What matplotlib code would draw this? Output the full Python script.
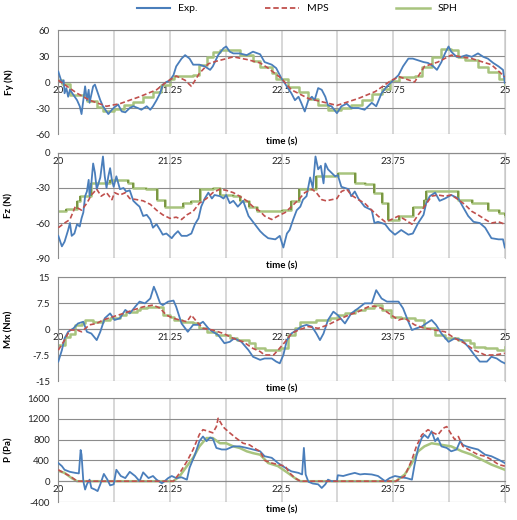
import numpy as np
import matplotlib.pyplot as plt

plt.rcParams['font.family'] = ['Lato', 'DejaVu Sans']

# ---- data (time s, value) ----
fy_exp = [(20.00, 12), (20.04, -1), (20.06, 2), (20.07, -13), (20.09, -7), (20.11, -17), (20.13, -9),
          (20.17, -15), (20.21, -21), (20.24, -28), (20.26, -37), (20.28, -21), (20.30, -5), (20.32, -21),
          (20.34, -9), (20.35, -24), (20.39, -5), (20.41, -3), (20.43, -9), (20.47, -21), (20.50, -28),
          (20.54, -34), (20.56, -37), (20.60, -32), (20.63, -29), (20.67, -26), (20.71, -34), (20.75, -35),
          (20.80, -30), (20.84, -28), (20.89, -30), (20.93, -32), (20.99, -28), (21.03, -32), (21.06, -28),
          (21.10, -21), (21.14, -13), (21.17, -3), (21.21, 0), (21.25, 2), (21.29, 8), (21.32, 18),
          (21.38, 27), (21.42, 31), (21.47, 27), (21.51, 20), (21.58, 20), (21.64, 18), (21.70, 14),
          (21.73, 18), (21.79, 31), (21.85, 39), (21.88, 41), (21.92, 35), (21.96, 33), (22.03, 33),
          (22.11, 31), (22.18, 35), (22.26, 32), (22.31, 23), (22.39, 20), (22.44, 16), (22.50, 4),
          (22.54, -2), (22.57, -7), (22.61, -13), (22.65, -21), (22.69, -17), (22.72, -24), (22.76, -34),
          (22.80, -21), (22.84, -17), (22.87, -21), (22.91, -7), (22.95, -9), (22.99, -17), (23.02, -27),
          (23.06, -28), (23.12, -36), (23.17, -28), (23.23, -25), (23.28, -30), (23.36, -30), (23.43, -32),
          (23.51, -24), (23.56, -28), (23.62, -13), (23.68, -5), (23.73, 0), (23.81, 8), (23.86, 18),
          (23.92, 27), (23.97, 27), (24.03, 25), (24.09, 23), (24.14, 22), (24.20, 18), (24.24, 14),
          (24.29, 23), (24.33, 33), (24.37, 41), (24.40, 35), (24.46, 29), (24.51, 29), (24.57, 31),
          (24.63, 29), (24.70, 33), (24.76, 29), (24.81, 27), (24.87, 22), (24.93, 18), (24.98, 14),
          (25.00, -1)]
fy_mps = [(20.00, 2), (20.21, -13), (20.35, -21), (20.54, -28), (20.69, -25), (20.91, -17), (21.10, -9),
          (21.21, 0), (21.32, 7), (21.42, 2), (21.49, -5), (21.58, 10), (21.68, 21), (21.77, 24),
          (21.96, 29), (22.11, 26), (22.26, 22), (22.35, 16), (22.50, 4), (22.61, -9), (22.80, -19),
          (23.12, -27), (23.36, -19), (23.55, -11), (23.73, 2), (23.82, 6), (23.99, 0), (24.10, 18),
          (24.25, 23), (24.40, 31), (24.63, 27), (24.85, 20), (25.00, 6)]
fy_sph = [(20.00, 2), (20.04, -2), (20.13, -15), (20.32, -22), (20.43, -29), (20.50, -33), (20.62, -31),
          (20.73, -27), (20.84, -23), (20.95, -17), (21.06, -12), (21.15, -4), (21.25, 3), (21.29, 7),
          (21.51, 8), (21.58, 20), (21.66, 29), (21.73, 35), (21.81, 37), (22.03, 31), (22.18, 24),
          (22.26, 17), (22.39, 10), (22.44, 3), (22.57, -6), (22.69, -12), (22.80, -20), (22.91, -27),
          (23.02, -32), (23.17, -30), (23.28, -26), (23.40, -21), (23.51, -14), (23.62, -8), (23.71, 1),
          (23.81, 6), (23.99, 7), (24.07, 17), (24.18, 29), (24.29, 38), (24.40, 37), (24.48, 29),
          (24.55, 25), (24.70, 17), (24.81, 11), (24.93, 4), (25.00, -4)]

fz_exp = [(20.00, -71), (20.04, -80), (20.07, -76), (20.11, -66), (20.13, -60), (20.15, -71), (20.18, -69),
          (20.21, -61), (20.24, -63), (20.26, -56), (20.28, -51), (20.30, -37), (20.32, -33), (20.34, -23),
          (20.35, -37), (20.37, -26), (20.39, -9), (20.41, -17), (20.43, -31), (20.45, -26), (20.47, -21),
          (20.50, -3), (20.52, -20), (20.54, -30), (20.56, -20), (20.58, -13), (20.60, -23), (20.62, -29),
          (20.65, -20), (20.69, -31), (20.73, -30), (20.76, -33), (20.80, -32), (20.84, -41), (20.88, -44),
          (20.91, -46), (20.95, -54), (20.99, -53), (21.03, -57), (21.06, -64), (21.10, -61), (21.14, -66),
          (21.17, -70), (21.21, -69), (21.27, -73), (21.30, -70), (21.34, -67), (21.38, -71), (21.44, -71),
          (21.49, -69), (21.53, -61), (21.57, -56), (21.60, -46), (21.64, -39), (21.68, -34), (21.72, -39),
          (21.75, -36), (21.81, -37), (21.85, -39), (21.88, -36), (21.92, -43), (21.96, -41), (22.01, -46),
          (22.07, -41), (22.13, -54), (22.18, -59), (22.26, -67), (22.30, -70), (22.35, -73), (22.43, -74),
          (22.48, -71), (22.52, -81), (22.56, -69), (22.59, -66), (22.63, -57), (22.67, -49), (22.71, -46),
          (22.74, -40), (22.78, -37), (22.82, -21), (22.85, -30), (22.88, -3), (22.91, -14), (22.94, -11),
          (22.97, -26), (22.99, -9), (23.02, -14), (23.06, -17), (23.10, -20), (23.13, -19), (23.17, -29),
          (23.21, -30), (23.25, -31), (23.28, -37), (23.32, -33), (23.36, -39), (23.43, -46), (23.51, -49),
          (23.54, -60), (23.58, -59), (23.66, -61), (23.71, -66), (23.77, -70), (23.84, -66), (23.92, -70),
          (23.97, -69), (24.03, -60), (24.09, -53), (24.12, -43), (24.16, -37), (24.22, -34), (24.27, -41),
          (24.33, -39), (24.40, -36), (24.48, -39), (24.53, -46), (24.59, -54), (24.65, -59), (24.72, -60),
          (24.78, -64), (24.85, -73), (24.93, -74), (24.98, -74), (25.00, -81)]
fz_mps = [(20.00, -64), (20.07, -60), (20.13, -57), (20.19, -46), (20.26, -49), (20.32, -43), (20.37, -36),
          (20.43, -31), (20.48, -37), (20.54, -34), (20.60, -40), (20.63, -34), (20.69, -36), (20.75, -34),
          (20.80, -39), (20.88, -40), (20.95, -41), (21.03, -44), (21.10, -49), (21.17, -53), (21.25, -56),
          (21.32, -55), (21.38, -57), (21.44, -53), (21.51, -50), (21.58, -43), (21.66, -39), (21.73, -34),
          (21.81, -31), (21.88, -32), (21.96, -34), (22.03, -37), (22.11, -41), (22.18, -46), (22.26, -50),
          (22.31, -54), (22.39, -57), (22.46, -54), (22.54, -51), (22.61, -46), (22.69, -40), (22.76, -34),
          (22.84, -31), (22.89, -34), (22.95, -40), (23.00, -41), (23.06, -40), (23.12, -39), (23.17, -33),
          (23.23, -31), (23.28, -36), (23.36, -40), (23.43, -43), (23.51, -49), (23.58, -54), (23.66, -59),
          (23.73, -57), (23.81, -54), (23.88, -57), (23.96, -61), (24.03, -53), (24.10, -46), (24.18, -37),
          (24.25, -36), (24.33, -37), (24.40, -36), (24.48, -40), (24.55, -44), (24.63, -50), (24.70, -53),
          (24.78, -57), (24.85, -60), (24.93, -59), (25.00, -61)]
fz_sph = [(20.00, -50), (20.09, -48), (20.21, -41), (20.24, -37), (20.37, -26), (20.58, -23), (20.78, -26),
          (20.84, -30), (20.98, -31), (21.10, -40), (21.19, -46), (21.40, -43), (21.49, -41), (21.59, -31),
          (21.73, -30), (21.81, -36), (21.96, -37), (22.03, -41), (22.14, -46), (22.22, -50), (22.50, -49),
          (22.61, -41), (22.69, -31), (22.89, -20), (23.13, -17), (23.32, -26), (23.43, -27), (23.54, -34),
          (23.62, -43), (23.69, -57), (23.81, -54), (23.97, -46), (24.09, -40), (24.12, -33), (24.48, -40),
          (24.63, -43), (24.81, -49), (24.93, -51), (25.00, -54)]

mx_exp = [(20.00, -9.4), (20.04, -6.1), (20.07, -2.7), (20.11, -0.8), (20.17, 0.2), (20.22, 1.6),
          (20.28, 2.1), (20.32, -0.8), (20.37, -1.3), (20.43, -3.2), (20.47, -0.8), (20.52, 3.1),
          (20.58, 4.5), (20.63, 2.6), (20.69, 3.1), (20.75, 5.5), (20.80, 4.5), (20.86, 6.4), (20.91, 7.9),
          (20.97, 7.4), (21.03, 8.8), (21.07, 12.2), (21.10, 10.3), (21.14, 7.4), (21.17, 6.9), (21.23, 7.9),
          (21.29, 8.2), (21.32, 6.4), (21.38, 1.6), (21.45, -0.8), (21.51, 1.2), (21.57, 1.2), (21.62, 2.1),
          (21.68, 0.2), (21.73, -0.8), (21.79, -1.7), (21.86, -4.1), (21.92, -3.7), (21.97, -2.7),
          (22.05, -3.7), (22.13, -6.1), (22.18, -8.0), (22.26, -8.9), (22.31, -8.5), (22.39, -8.5),
          (22.44, -9.4), (22.48, -9.9), (22.52, -7.5), (22.56, -3.2), (22.61, -1.3), (22.67, -0.3),
          (22.72, 0.7), (22.78, 1.2), (22.84, 0.7), (22.89, -1.3), (22.93, -3.2), (22.97, -1.3), (23.02, 2.6),
          (23.08, 5.0), (23.13, 4.0), (23.21, 1.6), (23.28, 4.5), (23.36, 6.0), (23.43, 7.4), (23.51, 7.4),
          (23.56, 11.2), (23.62, 8.8), (23.68, 7.9), (23.73, 7.9), (23.81, 7.9), (23.86, 6.0), (23.92, 2.1),
          (23.96, -0.3), (24.01, 0.2), (24.07, 0.7), (24.12, 1.6), (24.18, 2.6), (24.23, 1.2), (24.29, -1.3),
          (24.37, -3.7), (24.44, -2.7), (24.52, -3.2), (24.59, -5.1), (24.66, -7.5), (24.72, -9.4),
          (24.80, -9.4), (24.85, -8.0), (24.91, -8.5), (24.96, -9.4), (25.00, -9.9)]
mx_mps = [(20.00, -6.1), (20.07, -3.2), (20.13, -0.3), (20.21, -0.3), (20.26, -0.8), (20.35, 1.2),
          (20.43, 1.6), (20.50, 2.6), (20.62, 3.6), (20.73, 4.5), (20.84, 5.5), (20.95, 6.4), (21.06, 6.9),
          (21.14, 6.0), (21.21, 4.0), (21.29, 3.1), (21.36, 2.6), (21.44, 2.1), (21.49, 4.0), (21.55, 2.1),
          (21.62, 0.2), (21.73, -0.3), (21.85, -1.3), (21.96, -2.7), (22.07, -3.7), (22.18, -5.6),
          (22.26, -6.5), (22.31, -7.5), (22.41, -7.5), (22.46, -6.1), (22.54, -3.7), (22.61, -1.3),
          (22.69, -0.3), (22.80, 0.7), (22.91, 0.2), (23.02, 1.2), (23.13, 2.6), (23.25, 4.0), (23.36, 5.0),
          (23.47, 6.4), (23.54, 6.6), (23.62, 6.0), (23.73, 4.0), (23.81, 2.6), (23.88, 3.1), (23.99, 1.2),
          (24.10, 0.2), (24.22, -0.3), (24.33, -0.8), (24.44, -2.7), (24.55, -4.1), (24.66, -6.1),
          (24.78, -7.5), (24.89, -7.5), (25.00, -7.0)]
mx_sph = [(20.00, -4.6), (20.07, -2.2), (20.13, -1.3), (20.19, 1.2), (20.26, 1.6), (20.30, 2.6),
          (20.39, 2.1), (20.50, 2.6), (20.58, 3.1), (20.69, 4.0), (20.76, 5.0), (20.88, 5.5), (20.91, 6.0),
          (20.99, 6.4), (21.17, 4.0), (21.25, 3.6), (21.29, 2.6), (21.38, 2.1), (21.51, 1.6), (21.58, 0.2),
          (21.66, -0.8), (21.77, -1.7), (21.92, -2.7), (22.00, -3.2), (22.14, -4.1), (22.20, -5.6),
          (22.31, -6.1), (22.48, -5.6), (22.57, -1.7), (22.65, 0.2), (22.71, 2.1), (22.89, 2.6), (23.04, 3.1),
          (23.13, 4.0), (23.21, 4.5), (23.32, 5.5), (23.43, 6.0), (23.54, 6.9), (23.62, 5.5), (23.73, 3.6),
          (23.84, 3.1), (23.99, 2.6), (24.10, 0.2), (24.22, -1.7), (24.33, -2.7), (24.48, -3.2),
          (24.61, -4.1), (24.66, -5.1), (24.78, -5.6), (24.91, -6.1), (25.00, -5.1)]

p_exp = [(20.00, 350), (20.04, 290), (20.07, 220), (20.13, 180), (20.19, 160), (20.23, 150), (20.25, 600),
         (20.26, 510), (20.28, 0), (20.30, -160), (20.32, -60), (20.35, 30), (20.37, -130), (20.41, -160),
         (20.44, -190), (20.47, -60), (20.51, 140), (20.55, 30), (20.58, -80), (20.62, -60), (20.65, 220),
         (20.70, 100), (20.75, 60), (20.80, 180), (20.86, 100), (20.91, 0), (20.95, 170), (21.01, 60),
         (21.06, 100), (21.10, 30), (21.16, -40), (21.19, 0), (21.23, 60), (21.27, 100), (21.32, 60),
         (21.38, 75), (21.44, 30), (21.47, 260), (21.53, 510), (21.58, 770), (21.62, 860), (21.66, 770),
         (21.70, 840), (21.73, 820), (21.77, 640), (21.83, 610), (21.88, 610), (21.96, 670), (22.03, 670),
         (22.11, 640), (22.18, 610), (22.26, 575), (22.31, 480), (22.39, 450), (22.46, 350), (22.54, 260),
         (22.61, 190), (22.69, 160), (22.73, 130), (22.75, 640), (22.77, 130), (22.80, -10), (22.85, -45),
         (22.91, -60), (22.95, -130), (22.99, -60), (23.02, 30), (23.06, 0), (23.12, 0), (23.13, 115),
         (23.19, 100), (23.25, 130), (23.32, 160), (23.38, 130), (23.43, 140), (23.51, 130), (23.58, 100),
         (23.66, 0), (23.71, 60), (23.77, 100), (23.84, 75), (23.90, 60), (23.96, 30), (23.99, 320),
         (24.03, 640), (24.07, 830), (24.10, 890), (24.14, 830), (24.18, 960), (24.22, 770), (24.25, 830),
         (24.29, 670), (24.35, 640), (24.40, 575), (24.46, 610), (24.50, 770), (24.53, 700), (24.57, 670),
         (24.63, 640), (24.70, 610), (24.78, 510), (24.85, 480), (24.93, 415), (25.00, 350)]
p_mps = [(20.00, 220), (20.06, 160), (20.13, 100), (20.21, 0), (21.29, 0), (21.36, 160), (21.44, 380),
         (21.51, 610), (21.58, 900), (21.62, 990), (21.68, 960), (21.73, 930), (21.77, 1050), (21.79, 1210),
         (21.83, 1090), (21.86, 1020), (21.92, 930), (21.99, 830), (22.07, 730), (22.14, 700), (22.22, 610),
         (22.26, 575), (22.31, 400), (22.39, 350), (22.46, 320), (22.54, 290), (22.59, 160), (22.65, 60),
         (22.71, 0), (23.78, 0), (23.88, 100), (23.96, 415), (24.01, 670), (24.07, 890), (24.14, 990),
         (24.20, 930), (24.25, 890), (24.31, 1020), (24.35, 1050), (24.38, 960), (24.44, 800), (24.48, 860),
         (24.53, 670), (24.63, 575), (24.70, 510), (24.78, 480), (24.85, 415), (24.93, 320), (25.00, 290)]
p_sph = [(20.00, 200), (20.07, 160), (20.15, 60), (20.21, 0), (21.29, 0), (21.36, 100), (21.44, 290),
         (21.51, 450), (21.58, 670), (21.66, 830), (21.73, 830), (21.81, 730), (21.88, 730), (21.96, 670),
         (22.03, 640), (22.11, 575), (22.18, 540), (22.26, 510), (22.35, 350), (22.46, 290), (22.57, 160),
         (22.65, 60), (22.71, 0), (23.78, 0), (23.88, 130), (23.96, 350), (24.03, 575), (24.10, 670),
         (24.18, 730), (24.29, 700), (24.40, 670), (24.52, 575), (24.63, 510), (24.74, 415), (24.85, 320),
         (25.00, 220)]

# name, exp, mps, sph, sph drawn as steps, dark step edges, y ticks, y tick labels
panels = [
    ('Fy (N)', fy_exp, fy_mps, fy_sph, True, False, [-60, -30, 0, 30, 60], ['-60', '-30', '0', '30', '60']),
    ('Fz (N)', fz_exp, fz_mps, fz_sph, True, True, [-90, -60, -30, 0], ['-90', '-60', '-30', '0']),
    ('Mx (Nm)', mx_exp, mx_mps, mx_sph, True, False, [-15, -7.5, 0, 7.5, 15],
     ['-15', '-7.5', '0', '7.5', '15']),
    ('P (Pa)', p_exp, p_mps, p_sph, False, False, [-400, 0, 400, 800, 1200, 1600],
     ['-400', '0', '400', '800', '1200', '1600']),
]
x_ticks = [20, 20.625, 21.25, 21.875, 22.5, 23.125, 23.75, 24.375, 25]
x_labels = ['20', '', '21.25', '', '22.5', '', '23.75', '', '25']

EXP_C = '#4A7EBB'
MPS_C = '#C0504D'
SPH_C = '#A8C47E'
SPH_DARK = '#76923C'

# axes boxes (left, bottom, width, height) in figure fractions
boxes = [(0.1128, 0.7423, 0.8636, 0.2000),
         (0.1128, 0.5038, 0.8636, 0.2020),
         (0.1128, 0.2673, 0.8636, 0.2000),
         (0.1128, 0.0346, 0.8636, 0.2000)]
ylab_y = [0.842, 0.605, 0.367, 0.135]

fig = plt.figure(figsize=(5.17, 5.20), dpi=100)

for (name, exp, mps, sph, steps, dark, yt, ytl), box, yl in zip(panels, boxes, ylab_y):
    ax = fig.add_axes(box)
    te, ve = zip(*exp)
    tm, vm = zip(*mps)
    ts, vs = zip(*sph)
    if steps:
        ax.plot(ts, vs, drawstyle='steps-post', color=SPH_C, lw=1.8, zorder=2)
        if dark:
            ax.vlines(ts[1:], vs[:-1], vs[1:], color=SPH_DARK, lw=1.3, zorder=2.5)
    else:
        ax.plot(ts, vs, color=SPH_C, lw=1.8, zorder=2)
    ax.plot(te, ve, color=EXP_C, lw=1.3, zorder=3)
    ax.plot(tm, vm, color=MPS_C, lw=1.2, ls=(0, (3, 1.6)), zorder=4)

    ax.set_xlim(20, 25)
    ax.set_ylim(yt[0], yt[-1])
    ax.set_xticks(x_ticks)
    ax.set_xticklabels(x_labels)
    ax.set_yticks(yt)
    ax.set_yticklabels(ytl)
    ax.grid(axis='y', color='#8C8C8C', lw=0.8, zorder=0)
    ax.grid(axis='x', color='#D4D4D4', lw=1.3, zorder=0)
    ax.set_axisbelow(True)
    ax.spines['bottom'].set_position(('data', 0))
    for s in ax.spines.values():
        s.set_color('#8C8C8C')
        s.set_linewidth(0.8)
    ax.spines['right'].set_color('#C8C8C8')
    ax.tick_params(length=0, labelsize=7, colors='#222222')
    ax.tick_params(axis='x', pad=3)
    ax.tick_params(axis='y', pad=6)
    ax.text(0.5, -0.035, 'time (s)', transform=ax.transAxes, ha='center', va='top',
            fontsize=7, fontweight='bold')
    fig.text(0.018, yl, name, rotation=90, ha='center', va='center', fontsize=7, fontweight='bold')

handles = [plt.Line2D([], [], color=EXP_C, lw=1.5),
           plt.Line2D([], [], color=MPS_C, lw=1.3, ls=(0, (3, 1.6))),
           plt.Line2D([], [], color=SPH_C, lw=1.8)]
fig.legend(handles, ['Exp.', 'MPS', 'SPH'], loc='upper center', bbox_to_anchor=(0.575, 1.01),
           ncol=3, frameon=False, fontsize=7.5, handlelength=3.2, columnspacing=6.5)

fig.savefig('out.png', dpi=100)
